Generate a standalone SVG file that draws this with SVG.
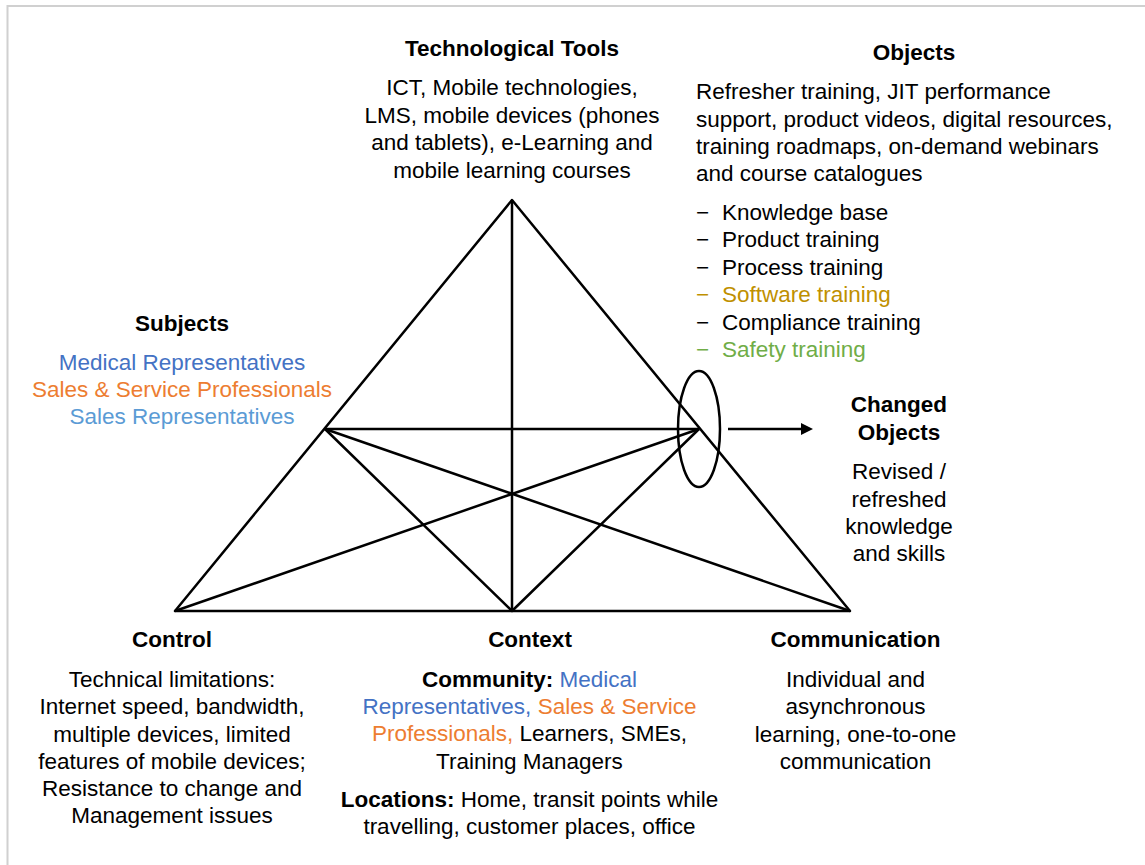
<svg xmlns="http://www.w3.org/2000/svg" width="1145" height="865" viewBox="0 0 1145 865">
<style>
text{font-family:"Liberation Sans",Arial,sans-serif;font-size:22.5px;fill:#000;text-anchor:middle}
.b{font-weight:bold}
.l{text-anchor:start}
.blue{fill:#4472C4}
.orange{fill:#ED7D31}
.lblue{fill:#5B9BD5}
.gold{fill:#BF9000}
.green{fill:#70AD47}
.ln{stroke:#000;stroke-width:2.5;fill:none;stroke-linejoin:round}
</style>
<defs>
<marker id="arr" markerUnits="userSpaceOnUse" markerWidth="12" markerHeight="12" refX="4" refY="6" orient="auto">
<path d="M0,0 L12,6 L0,12 z" fill="#000"/>
</marker>
</defs>
<rect width="1145" height="865" fill="#fff"/>
<path d="M7.5,865 V6 H1145" stroke="#d0d0d0" stroke-width="2" fill="none"/>
<g id="connectors">
<path class="ln" d="M512,200 L175,611 L850,611 Z"/>
<path class="ln" d="M512,200 L512,611"/>
<path class="ln" d="M325,429 L699,429"/>
<path class="ln" d="M325,429 L512,611 L699,429"/>
<path class="ln" d="M325,429 L850,611"/>
<path class="ln" d="M699,429 L175,611"/>
<ellipse class="ln" cx="699" cy="429" rx="21" ry="58"/>
<line class="ln" x1="728" y1="429" x2="805" y2="429" marker-end="url(#arr)"/>
</g>
<g id="technological-tools">
<text class="b" x="512" y="56">Technological Tools</text>
<text x="512" y="95">ICT, Mobile technologies,</text>
<text x="512" y="122.5">LMS, mobile devices (phones</text>
<text x="512" y="150">and tablets), e-Learning and</text>
<text x="512" y="177.5">mobile learning courses</text>
</g>
<g id="objects">
<text class="b" x="914" y="60">Objects</text>
<text class="l" x="696" y="99">Refresher training, JIT performance</text>
<text class="l" x="696" y="126.5">support, product videos, digital resources,</text>
<text class="l" x="696" y="154">training roadmaps, on-demand webinars</text>
<text class="l" x="696" y="181">and course catalogues</text>
<text class="l" x="696" y="219.5">−</text><text class="l" x="722" y="219.5">Knowledge base</text>
<text class="l" x="696" y="247">−</text><text class="l" x="722" y="247">Product training</text>
<text class="l" x="696" y="274.5">−</text><text class="l" x="722" y="274.5">Process training</text>
<text class="l gold" x="696" y="302">−</text><text class="l gold" x="722" y="302">Software training</text>
<text class="l" x="696" y="329.5">−</text><text class="l" x="722" y="329.5">Compliance training</text>
<text class="l green" x="696" y="357">−</text><text class="l green" x="722" y="357">Safety training</text>
</g>
<g id="subjects">
<text class="b" x="182" y="331">Subjects</text>
<text class="blue" x="182" y="370">Medical Representatives</text>
<text class="orange" x="182" y="397">Sales &amp; Service Professionals</text>
<text class="lblue" x="182" y="424">Sales Representatives</text>
</g>
<g id="changed-objects">
<text class="b" x="899" y="412">Changed</text>
<text class="b" x="899" y="440">Objects</text>
<text x="899" y="479">Revised /</text>
<text x="899" y="506.5">refreshed</text>
<text x="899" y="534">knowledge</text>
<text x="899" y="561">and skills</text>
</g>
<g id="control">
<text class="b" x="172" y="647">Control</text>
<text x="172" y="687">Technical limitations:</text>
<text x="172" y="714">Internet speed, bandwidth,</text>
<text x="172" y="741.5">multiple devices, limited</text>
<text x="172" y="768.5">features of mobile devices;</text>
<text x="172" y="796">Resistance to change and</text>
<text x="172" y="823">Management issues</text>
</g>
<g id="context">
<text class="b" x="530" y="647">Context</text>
<text x="529.5" y="687"><tspan class="b">Community:</tspan> <tspan class="blue">Medical</tspan></text>
<text x="529.5" y="713.5"><tspan class="blue">Representatives,</tspan> <tspan class="orange">Sales &amp; Service</tspan></text>
<text x="529.5" y="741"><tspan class="orange">Professionals,</tspan> Learners, SMEs,</text>
<text x="529.5" y="768.5">Training Managers</text>
<text x="529.5" y="807"><tspan class="b">Locations:</tspan> Home, transit points while</text>
<text x="529.5" y="833.5">travelling, customer places, office</text>
</g>
<g id="communication">
<text class="b" x="855.5" y="647">Communication</text>
<text x="855.5" y="687">Individual and</text>
<text x="855.5" y="714">asynchronous</text>
<text x="855.5" y="741.5">learning, one-to-one</text>
<text x="855.5" y="768.5">communication</text>
</g>
</svg>
